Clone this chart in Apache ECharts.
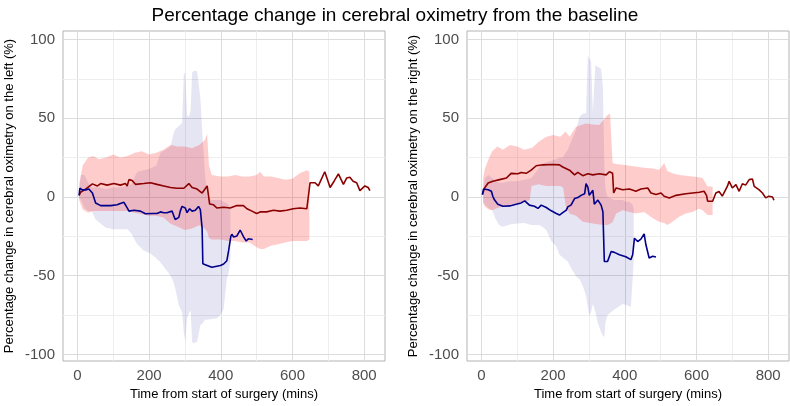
<!DOCTYPE html>
<html><head><meta charset="utf-8">
<script src="https://cdn.jsdelivr.net/npm/echarts@6/dist/echarts.min.js"></script>
<style>html,body{margin:0;padding:0;background:#fff}#c{width:790px;height:406px}</style>
</head><body><div id="c"></div>
<script>
// ---------- tick values ----------
const xTicks = [0, 200, 400, 600, 800];
const xMinor = [100, 300, 500, 700];
const yTicks = [-100, -50, 0, 50, 100];
const yMinor = [-75, -25, 25, 75];

// ---------- LEFT panel ----------
const leftRedTime = [5,9,23,42,56,65,83,102,120,134,139,144,153,162,185,204,222,241,260,277,297,311,320,334,348,362,366,369,380,389,408,426,445,463,473,487,500,510,528,547,565,584,602,621,640,645,649,663,672,690,705,716,728,742,751,760,769,779,788,802,811,816];
const leftRedMean = [1,3,5,8.3,7,8.5,7.5,8.5,7.5,8.5,7,11,10.5,8,8.5,9,8,7,6,5.5,5.5,8.5,6,5,2.5,7,6,-4.5,-5,-7,-6.5,-7,-5.5,-5.5,-7.5,-9,-10.5,-9.5,-9.5,-8.5,-9,-8.5,-7.5,-7,-7.5,-7,9,9,7,16,6,10,14.6,8,12,12.5,10,9,4,7,6,4];

const leftRedBandTime = [5,15,30,45,60,80,100,120,140,160,180,200,220,240,260,280,300,320,340,355,362,367,375,400,420,440,460,480,500,510,520,540,560,580,600,620,640,647];
const leftRedUpper = [8,20,25,26,24,25,27,25,26,28,29,27,28,30,33,32,32,31,33,36,40,20,14,13,13,14,13,13,14,16,13,13,12,11,11.5,15,17,16];
const leftRedLower = [-2,-8,-10,-9,-9,-9,-9,-9,-9,-10,-11,-12,-12,-13,-17,-19,-21,-20,-18,-20,-22,-26,-27,-27,-28,-28,-29,-29,-32,-33,-33,-31,-30,-29,-28,-28,-28,-27];

const leftBlueTime = [5,7,14,23,32,42,51,65,93,111,120,130,139,144,158,176,190,209,222,232,241,250,264,269,273,283,287,292,301,306,313,320,329,338,343,348,350,362,375,389,399,408,417,422,428,431,436,445,454,464,471,477,482,489];
const leftBlueMean = [1,5.5,4.5,4.5,5,2.5,-3.8,-5.5,-5.5,-5,-4.2,-3.4,-7,-9,-8.5,-9,-10.7,-10.5,-10.5,-9.5,-10,-10,-9,-12,-14.3,-13,-9,-6,-7,-10,-7.5,-9,-8.5,-6,-8,-20,-42.5,-43.5,-44.7,-44,-43.5,-42.6,-40.5,-34,-25,-23.7,-25.5,-24.8,-21,-25.5,-28,-26.5,-27.5,-27];

const leftBlueBandTime = [5,10,20,30,40,50,60,80,100,120,140,150,167,185,204,220,232,246,260,268,273,283,292,297,301,306,311,316,320,324,334,343,350,356,362,375,389,399,408,417,422,427];
const leftBlueUpper = [3,14,14,9,6,6,6,5,6,6,7,8,16,17,18,20,28,30,32,40,43,45,47,78,79,52,51,55,79,80,80,63,35,15,0,-2,-2,-2,-3,-4,-5,-8];
const leftBlueLower = [-1,-2,-7,-9,-9,-14,-16,-19.5,-20.5,-20.5,-20.5,-23,-30,-34,-36,-39,-41.6,-45.8,-50,-54,-58,-69,-73,-86,-92,-77,-74,-72,-92,-93,-92,-81.5,-80,-78,-78,-77.5,-77,-75,-71,-52,-48,-39.5];

// ---------- RIGHT panel ----------
const rightRedTime = [3,9,19,32,51,70,83,102,111,125,139,153,172,199,218,227,246,260,269,283,297,311,329,348,357,366,369,376,394,413,431,445,464,473,487,501,510,524,543,570,589,608,621,628,631,645,654,663,672,686,691,700,710,719,728,737,747,756,761,774,784,793,802,812,816];
const rightRedMean = [1.5,5.7,8.8,10,11,12,15,14.7,15.5,15,17,19.8,20.4,20.6,20.4,19,17,14,15.6,13.5,14.7,14,14.7,14,16,15,2.5,5.7,4.6,5,3.6,5,5.7,2.5,1.5,2.5,0.4,-0.6,1,2,2.5,3,3.6,1,-2.7,-2.7,2.5,3.5,0.5,6.7,9.9,5.7,7.8,3.6,8.4,7.5,11,11.4,6.7,4.6,2.5,-0.6,0.5,0,-2.1];

const rightRedBandTime = [5,10,20,30,45,60,80,100,120,135,140,160,180,200,220,228,235,246,264,283,292,311,329,352,359,366,376,394,413,431,454,478,496,510,519,533,552,570,589,607,617,631,645];
const rightRedUpper = [12,18,24,29,32,30,33,32,30,31,31,35,38,39.4,38.3,40,41.5,38.3,44.6,46,46.7,46,45.7,52,53,21.5,21,20.4,19.8,19.4,18.5,18,17.3,21.5,16.4,15,14,13.5,13,12.5,12,6.7,6.7];
const rightRedLower = [-4,-6,-8,-8.4,-7,-6,-5,-4,-3,-2,7,8,7,7,7,6,-5,-10.5,-12,-15.7,-16,-16.8,-17.5,-17.8,-17,-16,-10.5,-8.5,-9.5,-10.5,-9.5,-13.6,-15.7,-16.5,-17.8,-15.7,-12.6,-10.5,-9.5,-7.5,-8.5,-11.5,-11.5];

const rightBlueTime = [3,6,19,28,32,37,46,60,79,97,111,121,134,148,158,167,181,195,209,218,227,237,241,250,260,269,278,288,292,297,301,306,311,315,325,334,339,343,352,362,371,385,403,417,422,427,431,436,445,454,459,468,473,478,482,487];
const rightBlueMean = [1.5,5,4.6,3.6,0.4,-2,-4.6,-5.9,-5.7,-4.6,-3.8,-2.5,-5.2,-5.9,-7.3,-5.2,-6.7,-8.8,-10.5,-11.5,-10,-8.4,-6.3,-5.2,-1,-0.4,1,2,8.4,6.3,1,0,4.2,-4.6,-2,-5.2,-9.4,-41,-41,-34.6,-35.2,-36.7,-38,-39.8,-36.7,-26.2,-25.2,-28.3,-26.8,-23.5,-30.4,-38.8,-39.8,-37.7,-37.3,-38.2];

const rightBlueBandTime = [5,10,20,30,40,50,60,80,100,120,140,160,167,181,195,209,218,227,241,250,264,274,283,292,297,301,306,311,318,325,334,339,343,346,352,362,371,385,394,403,413,417,422,425];
const rightBlueUpper = [3,12,14,12,10,9,9,10,10,11,12,18,21,22,23,24,25,25,30,35,42.5,51,53,53,90,88,86,54,83.6,82.5,81.5,70,20,5,0,-1,-2,-2,-2,-3,-3,-4,-5,-8];
const rightBlueLower = [-3,-5,-7,-8.4,-14,-18,-18.9,-17.5,-16.8,-16.5,-17.8,-17.8,-18.5,-21,-28,-31.4,-36.7,-38.5,-41,-45,-50.3,-52.4,-56.6,-62.9,-70,-75.5,-73,-68,-73,-80,-86,-88,-89,-80,-75,-73,-71.5,-69.5,-68,-68.5,-69.5,-70,-52,-40];

// ---------- styling ----------
const FONT = '"Liberation Sans", Arial, sans-serif';
const RED_LINE = '#8b0000', BLUE_LINE = '#00008b';
const RED_FILL = 'rgba(255,0,0,0.2)', BLUE_FILL = 'rgba(0,0,139,0.1)';
const X_MIN = -40, X_MAX = 858, Y_MIN = -104.2, Y_MAX = 105.4;

function pairs(t, v) { return t.map((x, i) => [x, v[i]]); }

function ribbonSeries(idx, t, hi, lo, fill) {
  return {
    type: 'custom', xAxisIndex: idx, yAxisIndex: idx, z: 2, silent: true, clip: true,
    data: t.map((x, i) => [x, lo[i], hi[i]]),
    encode: { x: 0, y: [1, 2] },
    renderItem: function (params, api) {
      if (params.dataIndex !== 0) return null;
      const pts = [];
      for (let i = 0; i < t.length; i++) pts.push(api.coord([t[i], hi[i]]));
      for (let i = t.length - 1; i >= 0; i--) pts.push(api.coord([t[i], lo[i]]));
      return { type: 'polygon', shape: { points: pts }, style: { fill: fill, stroke: null } };
    }
  };
}

function lineSeries(idx, t, v, color) {
  return {
    type: 'line', xAxisIndex: idx, yAxisIndex: idx, z: 3, silent: true,
    data: pairs(t, v), showSymbol: false, symbol: 'none',
    lineStyle: { color: color, width: 1.6 }, animation: false
  };
}

function gridSeries(idx) {
  const major = { color: '#dcdcdc', width: 1, type: 'solid' };
  const minor = { color: '#eeeeee', width: 1, type: 'solid' };
  const d = [];
  xTicks.forEach(v => d.push({ xAxis: v, lineStyle: major }));
  xMinor.forEach(v => d.push({ xAxis: v, lineStyle: minor }));
  yTicks.forEach(v => d.push({ yAxis: v, lineStyle: major }));
  yMinor.forEach(v => d.push({ yAxis: v, lineStyle: minor }));
  return {
    type: 'line', xAxisIndex: idx, yAxisIndex: idx, z: 1, silent: true,
    data: [[0, 0]], showSymbol: false, symbol: 'none', lineStyle: { opacity: 0 },
    markLine: { silent: true, symbol: 'none', z: 1, animation: false, label: { show: false }, data: d }
  };
}

function xAxis(idx) {
  return {
    type: 'value', gridIndex: idx, min: X_MIN, max: X_MAX,
    name: 'Time from start of surgery (mins)', nameLocation: 'middle', nameGap: 27,
    nameTextStyle: { color: '#000', fontSize: 13, fontFamily: FONT },
    axisLine: { show: false },
    axisTick: { show: true, length: 4, lineStyle: { color: '#b3b3b3' }, customValues: xTicks },
    axisLabel: { color: '#4d4d4d', fontSize: 15, fontFamily: FONT, margin: 7, customValues: xTicks,
      formatter: v => (xTicks.indexOf(v) >= 0 ? String(v) : '') },
    splitLine: { show: false }, minorSplitLine: { show: false }
  };
}
function yAxis(idx, name) {
  return {
    type: 'value', gridIndex: idx, min: Y_MIN, max: Y_MAX,
    name: name, nameLocation: 'middle', nameGap: 47,
    nameTextStyle: { color: '#000', fontSize: 13, fontFamily: FONT },
    axisLine: { show: false },
    axisTick: { show: true, length: 4, lineStyle: { color: '#b3b3b3' }, customValues: yTicks },
    axisLabel: { color: '#4d4d4d', fontSize: 15, fontFamily: FONT, margin: 8, customValues: yTicks,
      formatter: v => (yTicks.indexOf(v) >= 0 ? String(v) : '') },
    splitLine: { show: false }, minorSplitLine: { show: false }
  };
}

const chart = echarts.init(document.getElementById('c'), null, { renderer: 'canvas' });
chart.setOption({
  animation: false,
  backgroundColor: '#fff',
  title: { text: 'Percentage change in cerebral oximetry from the baseline', left: 'center', top: 1,
    textStyle: { color: '#000', fontSize: 19, fontWeight: 'normal', fontFamily: FONT } },
  grid: [
    { left: 63, top: 31, width: 322, height: 331, show: true, borderColor: '#b3b3b3', borderWidth: 1, backgroundColor: '#fff' },
    { left: 467, top: 31, width: 322, height: 331, show: true, borderColor: '#b3b3b3', borderWidth: 1, backgroundColor: '#fff' }
  ],
  xAxis: [xAxis(0), xAxis(1)],
  yAxis: [yAxis(0, 'Percentage change in cerebral oximetry on the left (%)'),
          yAxis(1, 'Percentage change in cerebral oximetry on the right (%)')],
  series: [
    gridSeries(0), gridSeries(1),
    ribbonSeries(0, leftBlueBandTime, leftBlueUpper, leftBlueLower, BLUE_FILL),
    ribbonSeries(0, leftRedBandTime, leftRedUpper, leftRedLower, RED_FILL),
    lineSeries(0, leftRedTime, leftRedMean, RED_LINE),
    lineSeries(0, leftBlueTime, leftBlueMean, BLUE_LINE),
    ribbonSeries(1, rightBlueBandTime, rightBlueUpper, rightBlueLower, BLUE_FILL),
    ribbonSeries(1, rightRedBandTime, rightRedUpper, rightRedLower, RED_FILL),
    lineSeries(1, rightRedTime, rightRedMean, RED_LINE),
    lineSeries(1, rightBlueTime, rightBlueMean, BLUE_LINE)
  ]
});
</script></body></html>
